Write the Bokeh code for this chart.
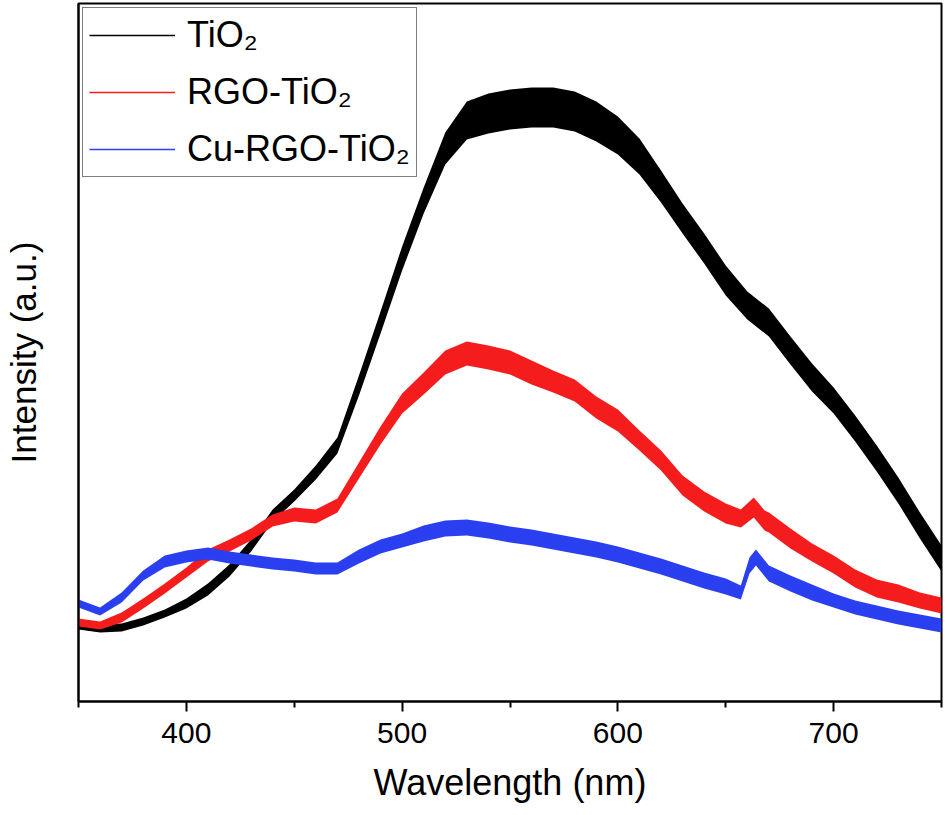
from bokeh.plotting import figure
from bokeh.models import Range1d, FixedTicker, Legend, LegendItem, ColumnDataSource
from bokeh.embed import file_html
from bokeh.resources import INLINE

# ---- data (arbitrary units) ----
wl_tio2 = [350, 360, 370, 380, 390, 400, 410, 420, 430, 440, 450, 460, 470, 480, 490,
           500, 510, 520, 530, 540, 550, 560, 570, 580, 590, 600, 610, 620, 630, 640,
           650, 660, 670, 680, 690, 700, 710, 720, 730, 740, 750]
int_tio2 = [76, 73, 74, 80, 88, 98, 112, 131, 156, 186, 206, 229, 256, 316, 379,
            443, 501, 553, 581, 588, 592, 594, 594, 590, 580, 566, 545, 515, 483, 453,
            421, 396, 379, 351, 324, 301, 273, 243, 211, 176, 143]
noise_tio2 = [4, 4, 4, 4, 4, 5, 6, 6, 6, 6, 6, 7, 8, 10, 11,
              12, 13, 16, 19, 20, 20, 20, 20, 20, 20, 19, 18, 16, 15, 15,
              15, 14, 14, 14, 14, 13, 13, 13, 13, 13, 13]

wl_rgo = [350, 360, 370, 380, 390, 400, 410, 420, 430, 440, 450, 460, 470, 480, 490,
          500, 510, 520, 530, 540, 550, 560, 570, 580, 590, 600, 610, 620, 630, 640,
          650, 657, 663, 668, 670, 680, 690, 700, 710, 720, 730, 740, 750]
int_rgo = [79, 76, 84, 98, 113, 129, 146, 156, 167, 181, 187, 185, 196, 231, 266,
           298, 318, 339, 348, 344, 339, 329, 320, 311, 294, 281, 261, 241, 216, 200,
           188, 183, 194, 181, 179, 163, 149, 137, 123, 113, 108, 101, 96]
noise_rgo = [4, 4, 5, 5, 5, 5, 6, 6, 6, 6, 7, 7, 7, 8, 9,
             10, 11, 12, 12, 12, 12, 12, 11, 11, 11, 11, 10, 10, 10, 10,
             10, 9, 10, 10, 10, 10, 9, 9, 9, 9, 9, 8, 8]

wl_cu = [350, 360, 370, 380, 390, 400, 410, 420, 430, 440, 450, 460, 470, 480, 490,
         500, 510, 520, 530, 540, 550, 560, 570, 580, 590, 600, 610, 620, 630, 640,
         650, 657, 661, 664, 670, 680, 690, 700, 710, 720, 730, 740, 750]
int_cu = [98, 90, 104, 126, 140, 145, 148, 144, 141, 138, 136, 133, 133, 145, 155,
          161, 168, 173, 174, 171, 167, 164, 160, 156, 152, 147, 141, 135, 128, 121,
          115, 109, 136, 144, 128, 118, 109, 101, 94, 89, 84, 80, 76]
noise_cu = [4, 4, 5, 5, 6, 6, 6, 6, 6, 6, 6, 6, 6, 7, 7,
            7, 8, 8, 8, 8, 8, 8, 8, 8, 8, 8, 8, 8, 8, 8,
            8, 7, 8, 8, 8, 8, 8, 7, 7, 7, 7, 7, 7]

names = ["TiO\u2082", "RGO-TiO\u2082", "Cu-RGO-TiO\u2082"]
colors = ["#000000", "#f41c1c", "#2a3ff0"]

x_ticks = [400, 500, 600, 700]
x_minor = [350, 450, 550, 650, 750]
x_title = "Wavelength (nm)"
y_title = "Intensity (a.u.)"

FONT = "Liberation Sans"

p = figure(width=944, height=814, output_backend="svg", toolbar_location=None,
           x_range=Range1d(350, 750), y_range=Range1d(0, 698),
           min_border_left=76, min_border_right=3, min_border_top=3, min_border_bottom=113)
p.background_fill_color = "white"
p.border_fill_color = "white"
p.xgrid.visible = False
p.ygrid.visible = False
p.outline_line_color = "black"
p.outline_line_width = 2

series = [(wl_tio2, int_tio2, noise_tio2), (wl_rgo, int_rgo, noise_rgo), (wl_cu, int_cu, noise_cu)]
items = []
for (wl, val, nz), name, col in zip(series, names, colors):
    src = ColumnDataSource(dict(x=wl, y=val,
                                lo=[v - n for v, n in zip(val, nz)],
                                hi=[v + n for v, n in zip(val, nz)]))
    p.varea(x="x", y1="lo", y2="hi", source=src, fill_color=col, fill_alpha=1.0)
    r = p.line(x="x", y="y", source=src, line_color=col, line_width=1.5)
    items.append(LegendItem(label=name, renderers=[r]))

legend = Legend(items=items, location="top_left")
legend.label_text_font = FONT
legend.label_text_font_size = "36px"
legend.label_text_color = "black"
legend.border_line_color = "black"
legend.border_line_width = 1
legend.background_fill_alpha = 1.0
legend.margin = 4
legend.padding = 6
legend.spacing = 15
legend.glyph_width = 86
legend.label_standoff = 12
p.add_layout(legend)

xa = p.xaxis[0]
xa.ticker = FixedTicker(ticks=x_ticks, minor_ticks=x_minor)
xa.axis_line_width = 2
xa.major_tick_line_width = 2
xa.minor_tick_line_width = 2
xa.major_tick_out = 10
xa.major_tick_in = 0
xa.minor_tick_out = 6
xa.minor_tick_in = 0
xa.major_label_text_font = FONT
xa.major_label_text_font_size = "30px"
xa.major_label_text_color = "black"
xa.major_label_standoff = 11
xa.axis_label = x_title
xa.axis_label_text_font = FONT
xa.axis_label_text_font_size = "36px"
xa.axis_label_text_font_style = "normal"
xa.axis_label_text_color = "black"
xa.axis_label_standoff = 16

ya = p.yaxis[0]
ya.ticker = FixedTicker(ticks=[], minor_ticks=[])
ya.axis_line_width = 2
ya.major_tick_out = 0
ya.major_tick_in = 0
ya.minor_tick_out = 0
ya.minor_tick_in = 0
ya.major_label_standoff = 0
ya.major_label_text_font_size = "0px"
ya.axis_label = y_title
ya.axis_label_text_font = FONT
ya.axis_label_text_font_size = "35px"
ya.axis_label_text_font_style = "normal"
ya.axis_label_text_color = "black"
ya.axis_label_standoff = 36

open("out.html", "w").write(file_html(p, INLINE))
